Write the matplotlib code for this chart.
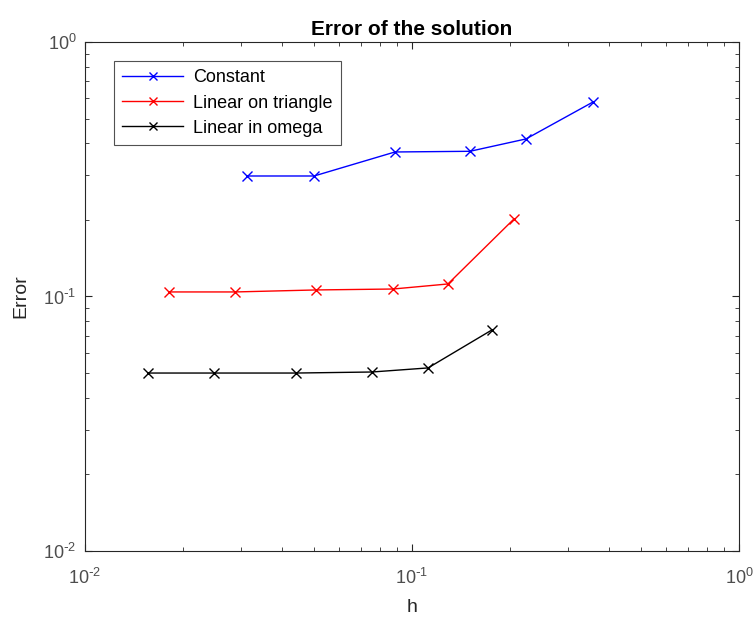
import matplotlib
matplotlib.use("Agg")
from matplotlib import pyplot as plt
from matplotlib.ticker import LogLocator, NullFormatter, FuncFormatter
import numpy as np

plt.rcParams['font.family'] = ['Liberation Sans', 'DejaVu Sans']
plt.rcParams['mathtext.default'] = 'regular'
plt.rcParams['axes.unicode_minus'] = False

# data
h_const = [0.0313, 0.0502, 0.0887, 0.1504, 0.2232, 0.3577]
err_const = [0.2975, 0.2975, 0.3697, 0.372, 0.416, 0.581]

h_tri = [0.0181, 0.0288, 0.0509, 0.0875, 0.1288, 0.205]
err_tri = [0.1042, 0.1042, 0.1061, 0.1070, 0.1120, 0.2016]

h_omega = [0.01558, 0.0248, 0.0442, 0.0754, 0.112, 0.1756]
err_omega = [0.05003, 0.05003, 0.05003, 0.0505, 0.0524, 0.0739]

labels = ["Constant", "Linear on triangle", "Linear in omega"]

fig = plt.figure(figsize=(7.56, 6.24), dpi=100)
ax = fig.add_axes([0.1124, 0.117, 0.8651, 0.8157])

ax.plot(h_const, err_const, '-x', color='#0000ff', lw=1, ms=7.5, label=labels[0])
ax.plot(h_tri, err_tri, '-x', color='#ff0000', lw=1, ms=7.5, label=labels[1])
ax.plot(h_omega, err_omega, '-x', color='black', lw=1, ms=7.5, label=labels[2])

ax.set_xscale('log')
ax.set_yscale('log')
ax.set_xlim(1e-2, 1e0)
ax.set_ylim(1e-2, 1e0)

def pow10(v, pos):
    e = int(round(np.log10(v)))
    if e < 0:
        return '$10^{\\text{-}%d}$' % (-e)
    return '$10^{%d}$' % e

for axis in (ax.xaxis, ax.yaxis):
    axis.set_major_locator(LogLocator(base=10, numticks=10))
    axis.set_minor_locator(LogLocator(base=10, subs=range(2, 10), numticks=20))
    axis.set_major_formatter(FuncFormatter(pow10))
    axis.set_minor_formatter(NullFormatter())

ax.tick_params(which='both', direction='in', top=True, right=True, colors='#262626',
               labelsize=13, labelcolor='#4d4d4d')
ax.tick_params(which='major', length=5, width=0.8)
ax.tick_params(which='minor', length=3, width=0.6)
ax.tick_params(axis='x', pad=12)
ax.tick_params(axis='y', pad=6)
for s in ax.spines.values():
    s.set_color('#262626')
    s.set_linewidth(0.8)

ax.set_xlabel("h", fontsize=14, color='#262626', labelpad=8)
ax.set_ylabel("Error", fontsize=14, color='#262626', labelpad=10)
ax.set_title("Error of the solution", fontsize=15, fontweight='bold', color='black', pad=5)

leg = ax.legend(loc='upper left', bbox_to_anchor=(0.044, 0.962), fontsize=13, frameon=True,
                fancybox=False, edgecolor='#262626', handlelength=3.4,
                borderpad=0.45, labelspacing=0.45, handletextpad=0.55, borderaxespad=0,
                markerscale=0.75)
leg.get_frame().set_linewidth(0.8)

fig.savefig("out.png", dpi=100)
